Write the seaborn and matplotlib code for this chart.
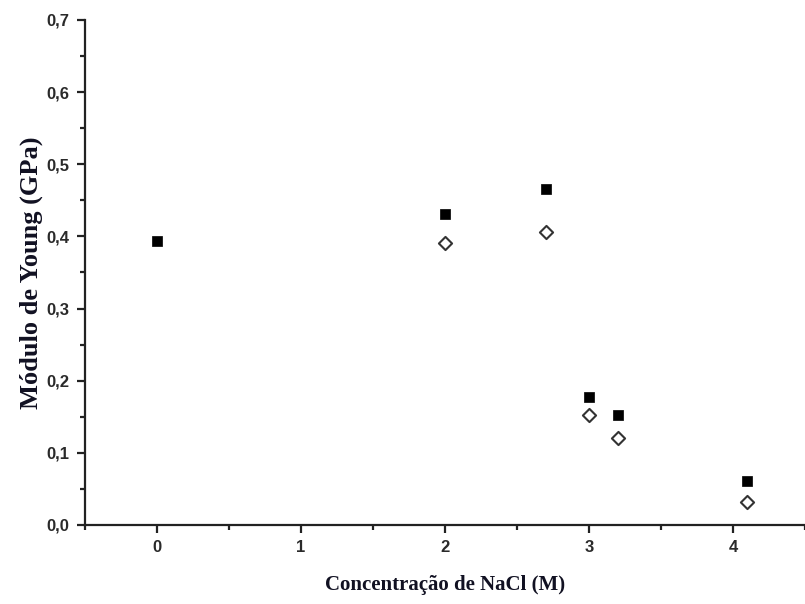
import matplotlib.pyplot as plt
from matplotlib.ticker import MultipleLocator, FuncFormatter
import seaborn as sns
import pandas as pd

sns.set_style("ticks")

conc_a = [0, 2, 2.7, 3, 3.2, 4.1]
young_a = [0.394, 0.431, 0.466, 0.177, 0.153, 0.061]
conc_b = [2, 2.7, 3, 3.2, 4.1]
young_b = [0.391, 0.406, 0.152, 0.121, 0.032]

df_a = pd.DataFrame({'conc': conc_a, 'young': young_a})
df_b = pd.DataFrame({'conc': conc_b, 'young': young_b})

fig = plt.figure(figsize=(8.05, 6.04), dpi=100)
ax = fig.add_axes([0.1056, 0.1308, 0.8944, 0.8361])

sns.scatterplot(data=df_a, x='conc', y='young', marker='s', s=60,
                color='black', edgecolor='black', linewidth=0.5, ax=ax)
sns.scatterplot(data=df_b, x='conc', y='young', marker='D', s=45,
                facecolor='white', edgecolor='#333333', linewidth=1.5, ax=ax)

ax.set_xlim(-0.5, 4.5)
ax.set_ylim(0, 0.7)
ax.xaxis.set_major_locator(MultipleLocator(1))
ax.xaxis.set_minor_locator(MultipleLocator(0.5))
ax.yaxis.set_major_locator(MultipleLocator(0.1))
ax.yaxis.set_minor_locator(MultipleLocator(0.05))
ax.yaxis.set_major_formatter(FuncFormatter(lambda v, p: f'{v:.1f}'.replace('.', ',')))

for side in ['top', 'right']:
    ax.spines[side].set_visible(False)
for side in ['left', 'bottom']:
    ax.spines[side].set_linewidth(1.6)
    ax.spines[side].set_color('#222222')

ax.tick_params(which='major', length=6, width=1.6, color='#222222', direction='out', pad=5)
ax.tick_params(which='minor', length=3.5, width=1.6, color='#222222', direction='out')
for lab in ax.get_xticklabels() + ax.get_yticklabels():
    lab.set_fontfamily('Liberation Sans')
    lab.set_fontweight('bold')
    lab.set_fontsize(12)
    lab.set_color('#2a2a2a')

ax.set_xlabel('Concentração de NaCl (M)', fontfamily='Liberation Serif',
              fontweight='bold', fontsize=15, labelpad=14, color='#111122')
ax.set_ylabel('Módulo de Young (GPa)', fontfamily='Liberation Serif',
              fontweight='bold', fontsize=19, labelpad=3, color='#111122')

fig.savefig('out.png', dpi=100)
